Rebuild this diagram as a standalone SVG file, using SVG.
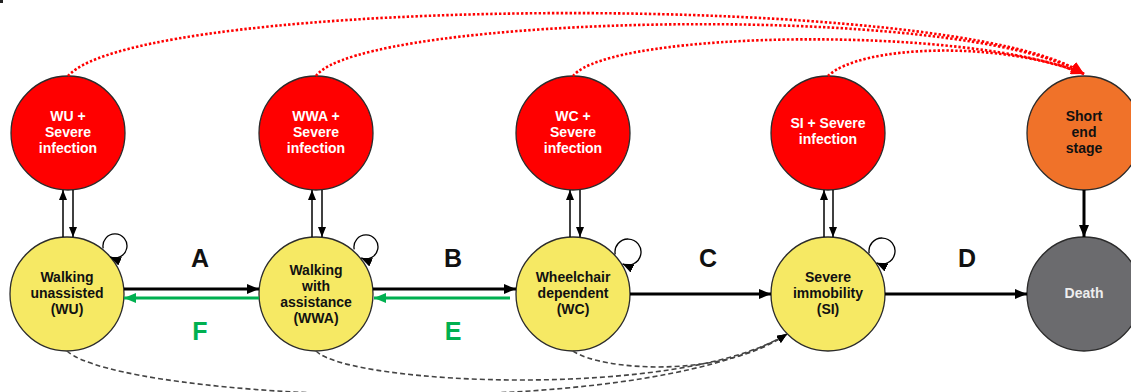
<svg xmlns="http://www.w3.org/2000/svg" width="1131" height="392" viewBox="0 0 1131 392">
  <style>
    .node { stroke: #2b2b2b; stroke-width: 1.3; }
    .inf { fill: #ff0000; }
    .state { fill: #f6e964; }
    .end { fill: #f07229; }
    .death { fill: #6b6b6e; }
    text { font-family: "Liberation Sans", Arial, sans-serif; font-weight: bold; text-anchor: middle; }
    .t { font-size: 14px; }
    .w { fill: #ffffff; }
    .k { fill: #111111; }
    .lbl { font-size: 25px; }
    .thick { stroke: #000; stroke-width: 3; fill: none; }
    .back { stroke: #00b050; stroke-width: 3; fill: none; }
    .thin { stroke: #000; stroke-width: 1.5; fill: none; }
    .loop { stroke: #000; stroke-width: 1.3; fill: none; }
    .dot { stroke: #ff0000; stroke-width: 2.6; stroke-dasharray: 2.4 2; fill: none; }
    .dash { stroke: #444; stroke-width: 1.6; stroke-dasharray: 5 3; fill: none; }
  </style>
  <defs>
    <marker id="ah" viewBox="0 0 12 10" refX="12" refY="5" markerWidth="12" markerHeight="10" markerUnits="userSpaceOnUse" orient="auto">
      <path d="M0,0 L12,5 L0,10 z" fill="#000"/>
    </marker>
    <marker id="ahg" viewBox="0 0 12 10" refX="12" refY="5" markerWidth="12" markerHeight="10" markerUnits="userSpaceOnUse" orient="auto">
      <path d="M0,0 L12,5 L0,10 z" fill="#00b050"/>
    </marker>
    <marker id="ahs" viewBox="0 0 10 8" refX="10" refY="4" markerWidth="10" markerHeight="8" markerUnits="userSpaceOnUse" orient="auto">
      <path d="M0,0 L10,4 L0,8 z" fill="#000"/>
    </marker>
    <marker id="ahl" viewBox="0 0 11 9" refX="11" refY="4.5" markerWidth="11" markerHeight="9" markerUnits="userSpaceOnUse" orient="auto">
      <path d="M0,0 L11,4.5 L0,9 z" fill="#000"/>
    </marker>
    <marker id="ahr" viewBox="0 0 13 11" refX="13" refY="5.5" markerWidth="13" markerHeight="11" markerUnits="userSpaceOnUse" orient="auto">
      <path d="M0,0 L13,5.5 L0,11 z" fill="#ff0000"/>
    </marker>
  </defs>

  <rect x="0" y="0" width="3" height="3" fill="#222"/>

  <!-- infection states -->
  <g id="wu-inf">
    <circle class="node inf" cx="68" cy="133" r="57"/>
    <text class="t w" x="68" y="121">WU +</text>
    <text class="t w" x="68" y="137">Severe</text>
    <text class="t w" x="68" y="153">infection</text>
  </g>
  <g id="wwa-inf">
    <circle class="node inf" cx="316" cy="133" r="57"/>
    <text class="t w" x="316" y="121">WWA +</text>
    <text class="t w" x="316" y="137">Severe</text>
    <text class="t w" x="316" y="153">infection</text>
  </g>
  <g id="wc-inf">
    <circle class="node inf" cx="573" cy="133" r="57"/>
    <text class="t w" x="573" y="121">WC +</text>
    <text class="t w" x="573" y="137">Severe</text>
    <text class="t w" x="573" y="153">infection</text>
  </g>
  <g id="si-inf">
    <circle class="node inf" cx="828" cy="133" r="57"/>
    <text class="t w" x="828" y="128">SI + Severe</text>
    <text class="t w" x="828" y="144">infection</text>
  </g>
  <g id="short-end">
    <circle class="node end" cx="1084" cy="133" r="57"/>
    <text class="t k" x="1084" y="121">Short</text>
    <text class="t k" x="1084" y="137">end</text>
    <text class="t k" x="1084" y="153">stage</text>
  </g>

  <!-- mobility states -->
  <g id="wu">
    <circle class="node state" cx="67" cy="294" r="57"/>
    <text class="t k" x="67" y="282">Walking</text>
    <text class="t k" x="67" y="298">unassisted</text>
    <text class="t k" x="67" y="314">(WU)</text>
  </g>
  <g id="wwa">
    <circle class="node state" cx="316" cy="294" r="57"/>
    <text class="t k" x="316" y="275">Walking</text>
    <text class="t k" x="316" y="291">with</text>
    <text class="t k" x="316" y="307">assistance</text>
    <text class="t k" x="316" y="323">(WWA)</text>
  </g>
  <g id="wc">
    <circle class="node state" cx="573" cy="294" r="57"/>
    <text class="t k" x="573" y="282">Wheelchair</text>
    <text class="t k" x="573" y="298">dependent</text>
    <text class="t k" x="573" y="314">(WC)</text>
  </g>
  <g id="si">
    <circle class="node state" cx="828" cy="294" r="57"/>
    <text class="t k" x="828" y="282">Severe</text>
    <text class="t k" x="828" y="298">immobility</text>
    <text class="t k" x="828" y="314">(SI)</text>
  </g>
  <g id="death">
    <circle class="node death" cx="1084" cy="294" r="57"/>
    <text class="t" x="1084" y="298" fill="#eeeeee">Death</text>
  </g>

  <!-- connectors -->
  <g id="connectors">
    <!-- infection transitions to the short end stage -->
    <path class="dot" d="M68,76 C140,-5 960,-10 1084,74" marker-end="url(#ahr)"/>
    <path class="dot" d="M316,76 C360,15 960,0 1084,74" marker-end="url(#ahr)"/>
    <path class="dot" d="M573,76 C610,30 970,25 1084,74" marker-end="url(#ahr)"/>
    <path class="dot" d="M828,76 C860,45 1000,40 1084,74" marker-end="url(#ahr)"/>

    <!-- jumps straight to severe immobility -->
    <path class="dash" d="M67,351 C120,400 640,425 787,334" marker-end="url(#ahs)"/>
    <path class="dash" d="M316,351 C350,385 680,400 787,334" marker-end="url(#ahs)"/>
    <path class="dash" d="M573,351 C600,370 720,380 787,334" marker-end="url(#ahs)"/>

    <!-- progression -->
    <line class="thick" x1="124" y1="289" x2="259" y2="289" marker-end="url(#ah)"/>
    <line class="thick" x1="373" y1="289" x2="516" y2="289" marker-end="url(#ah)"/>
    <line class="thick" x1="630" y1="294" x2="771" y2="294" marker-end="url(#ah)"/>
    <line class="thick" x1="885" y1="294" x2="1027" y2="294" marker-end="url(#ah)"/>
    <line class="thick" x1="1084" y1="190" x2="1084" y2="237" marker-end="url(#ah)"/>

    <!-- improvement -->
    <line class="back" x1="259" y1="298" x2="124" y2="298" marker-end="url(#ahg)"/>
    <line class="back" x1="510" y1="298" x2="374" y2="298" marker-end="url(#ahg)"/>

    <!-- infection in / recovery -->
    <line class="thin" x1="63" y1="237" x2="63" y2="190" marker-end="url(#ahs)"/>
    <line class="thin" x1="73" y1="190" x2="73" y2="237" marker-end="url(#ahs)"/>
    <line class="thin" x1="312" y1="237" x2="312" y2="190" marker-end="url(#ahs)"/>
    <line class="thin" x1="322" y1="190" x2="322" y2="237" marker-end="url(#ahs)"/>
    <line class="thin" x1="570" y1="237" x2="570" y2="190" marker-end="url(#ahs)"/>
    <line class="thin" x1="580" y1="190" x2="580" y2="237" marker-end="url(#ahs)"/>
    <line class="thin" x1="824" y1="237" x2="824" y2="190" marker-end="url(#ahs)"/>
    <line class="thin" x1="833" y1="190" x2="833" y2="237" marker-end="url(#ahs)"/>

    <!-- stay in state -->
    <path class="loop" d="M103.2,248.3 A12 12 0 1 1 110.1,256.9" marker-end="url(#ahl)"/>
    <path class="loop" d="M354.2,249.3 A12 12 0 1 1 361.1,257.9" marker-end="url(#ahl)"/>
    <path class="loop" d="M615.2,254.3 A13 13 0 1 1 622.5,263.8" marker-end="url(#ahl)"/>
    <path class="loop" d="M869.2,253.3 A13 13 0 1 1 876.5,262.8" marker-end="url(#ahl)"/>
  </g>

  <!-- transition labels -->
  <g id="labels">
    <text class="lbl k" x="200" y="267">A</text>
    <text class="lbl k" x="453" y="267">B</text>
    <text class="lbl k" x="708" y="267">C</text>
    <text class="lbl k" x="967" y="267">D</text>
    <text class="lbl" x="453" y="340" fill="#00b050">E</text>
    <text class="lbl" x="200" y="340" fill="#00b050">F</text>
  </g>
</svg>
